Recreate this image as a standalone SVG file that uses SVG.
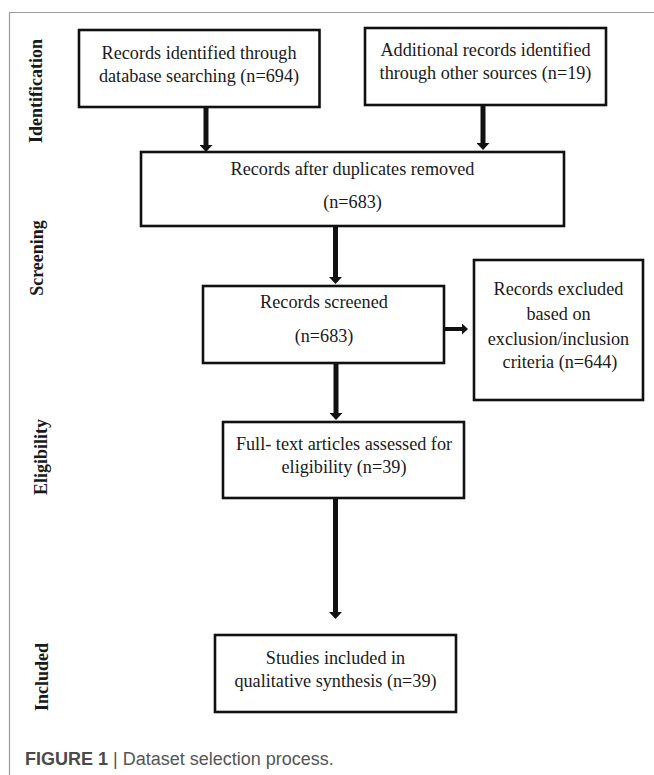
<svg xmlns="http://www.w3.org/2000/svg" width="654" height="775" viewBox="0 0 654 775">
<defs>
<style>
.box{fill:#fff;stroke:#111;stroke-width:2.6}
.t{font-family:"Liberation Serif","Times New Roman",serif;font-size:18.2px;fill:#1a1a1a;text-anchor:middle}
.side{font-family:"Liberation Serif","Times New Roman",serif;font-size:18px;font-weight:bold;fill:#1a1a1a;text-anchor:middle}
.conn{stroke:#111;stroke-width:5;fill:none}
.connh{stroke:#111;stroke-width:4;fill:none}
.frame{stroke:#9a9a9a;stroke-width:1.2;fill:none}
</style>
<marker id="ah" viewBox="0 0 7 13" refX="0" refY="6.5" markerWidth="7" markerHeight="13" markerUnits="userSpaceOnUse" orient="auto">
<path d="M0,0 L7,6.5 L0,13 z" fill="#111"/>
</marker>
<marker id="ahs" viewBox="0 0 6 11" refX="0" refY="5.5" markerWidth="6" markerHeight="11" markerUnits="userSpaceOnUse" orient="auto">
<path d="M0,0 L6,5.5 L0,11 z" fill="#111"/>
</marker>
</defs>
<rect width="654" height="775" fill="#fff"/>
<path class="frame" d="M9.5,775 L9.5,12.5 L654,12.5"/>

<g id="labels">
<text class="side" transform="translate(42,91) rotate(-90)">Identification</text>
<text class="side" transform="translate(43,258) rotate(-90)">Screening</text>
<text class="side" transform="translate(46.5,457) rotate(-90)">Eligibility</text>
<text class="side" transform="translate(47.5,677) rotate(-90)">Included</text>
</g>

<g id="connectors">
<path class="conn" d="M206,107 L206,145" marker-end="url(#ah)"/>
<path class="conn" d="M483,105 L483,143" marker-end="url(#ah)"/>
<path class="conn" d="M335.5,226 L335.5,277" marker-end="url(#ah)"/>
<path class="connh" d="M444,329 L462,329" marker-end="url(#ahs)"/>
<path class="conn" d="M336,363 L336,413" marker-end="url(#ah)"/>
<path class="conn" d="M335.5,498 L335.5,612" marker-end="url(#ah)"/>
</g>

<g id="n1">
<rect class="box" x="79" y="30" width="240.5" height="77"/>
<text class="t" x="199" y="59">Records identified through</text>
<text class="t" x="199" y="82">database searching (n=694)</text>
</g>
<g id="n2">
<rect class="box" x="365" y="28" width="241" height="77"/>
<text class="t" x="485.5" y="56">Additional records identified</text>
<text class="t" x="485.5" y="79">through other sources (n=19)</text>
</g>
<g id="n3">
<rect class="box" x="141" y="152" width="423" height="74"/>
<text class="t" x="352.5" y="175">Records after duplicates removed</text>
<text class="t" x="352.5" y="208">(n=683)</text>
</g>
<g id="n4">
<rect class="box" x="203" y="286" width="241" height="77"/>
<text class="t" x="324" y="308">Records screened</text>
<text class="t" x="324" y="342">(n=683)</text>
</g>
<g id="n5">
<rect class="box" x="474" y="260" width="169" height="140"/>
<text class="t" x="558.5" y="295">Records excluded</text>
<text class="t" x="558.5" y="320">based on</text>
<text class="t" x="558.5" y="345">exclusion/inclusion</text>
<text class="t" x="560" y="368">criteria (n=644)</text>
</g>
<g id="n6">
<rect class="box" x="223" y="422" width="241" height="76"/>
<text class="t" x="344" y="450">Full- text articles assessed for</text>
<text class="t" x="344" y="473">eligibility (n=39)</text>
</g>
<g id="n7">
<rect class="box" x="215" y="635" width="241" height="77"/>
<text class="t" x="335.5" y="664">Studies included in</text>
<text class="t" x="335.5" y="687">qualitative synthesis (n=39)</text>
</g>

<text x="25" y="765" font-family="'Liberation Sans',Arial,sans-serif" font-size="18" fill="#555"><tspan font-weight="bold" fill="#4a4a4a">FIGURE 1</tspan> | Dataset selection process.</text>
</svg>
